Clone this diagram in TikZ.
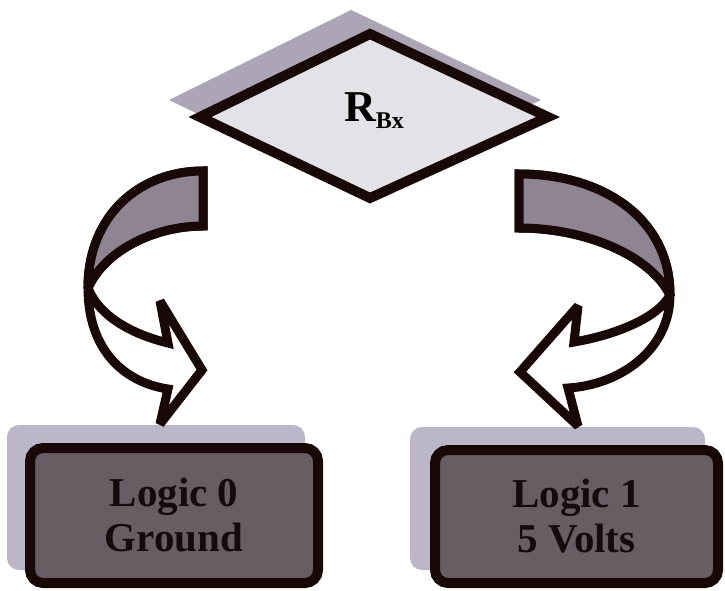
\documentclass[tikz,border=0pt]{standalone}
\usepackage{fontspec}
\setmainfont{Liberation Serif}
\definecolor{dshadow}{HTML}{ABA5B5}
\definecolor{dfill}{HTML}{E3E3E7}
\definecolor{bord}{HTML}{180808}
\definecolor{boxfill}{HTML}{675D63}
\definecolor{boxshadow}{HTML}{BBB7C9}
\definecolor{bandfill}{HTML}{8F8592}
\definecolor{boxtext}{HTML}{150A0E}
\begin{document}
\begin{tikzpicture}[x=1pt,y=-1pt,
  outline/.style={draw=bord,line width=10pt,line join=miter,miter limit=4},
  logicbox/.style={outline,fill=boxfill,rounded corners=13pt,minimum width=288pt,minimum height=135pt,
    align=center,text=boxtext,font=\fontsize{41}{45}\selectfont\bfseries,inner sep=0pt},
  boxshade/.style={fill=boxshadow,rounded corners=12pt},
  arrowwhite/.style={draw=bord,fill=white,line width=9pt,line join=miter,miter limit=3},
  band/.style={draw=bord,fill=bandfill,line width=9pt,line join=miter,miter limit=3}]
\useasboundingbox (0,0) rectangle (725,591);
% diamond shadow and diamond
\fill[dshadow] (169,100) -- (351,10) -- (541,100) -- (351,188) -- cycle;
\draw[outline,fill=dfill] (200,117) -- (370,34) -- (548,117) -- (370,198) -- cycle;
\node[font=\bfseries] (rbx) at (374,111) {{\fontsize{44}{46}\selectfont R}{\fontsize{24}{26}\selectfont\raisebox{-7pt}{Bx}}};
% box shadows
\fill[boxshade] (7,425) rectangle (305,570);
\fill[boxshade] (410,427) rectangle (705,570);
% left arrow
\path[arrowwhite] (203,171) .. controls (140,171) and (88,215) .. (88,288)
  .. controls (88,348) and (122,382) .. (168,389) -- (160,424) -- (202,370) -- (160,301) -- (168,343)
  .. controls (135,335) and (100,318) .. (88,288)
  .. controls (105,250) and (155,226) .. (203,226) -- cycle;
\path[band] (203,171) .. controls (140,171) and (88,215) .. (88,288)
  .. controls (105,250) and (155,226) .. (203,226) -- cycle;
% right arrow
\path[arrowwhite] (519,174) .. controls (605,174) and (670,220) .. (670,295)
  .. controls (670,350) and (620,385) .. (568,388) -- (578,426) -- (520,372) -- (578,306) -- (574,342)
  .. controls (615,335) and (658,318) .. (670,295)
  .. controls (650,255) and (585,228) .. (519,228) -- cycle;
\path[band] (519,174) .. controls (605,174) and (670,220) .. (670,295)
  .. controls (650,255) and (585,228) .. (519,228) -- cycle;
% boxes
\node[logicbox] (logic0) at (174,515.5) {Logic 0\\Ground};
\node[logicbox,minimum width=283pt,minimum height=133pt] (logic1) at (576.5,516.5) {Logic 1\\5 Volts};
\end{tikzpicture}
\end{document}
